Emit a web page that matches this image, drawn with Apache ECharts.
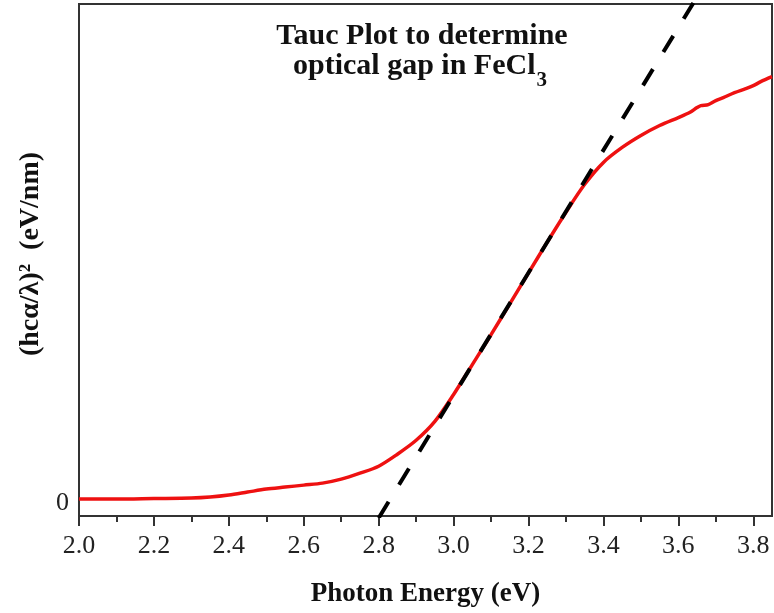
<!DOCTYPE html>
<html>
<head>
<meta charset="utf-8">
<script src="https://cdn.jsdelivr.net/npm/echarts@6/dist/echarts.min.js"></script>
<style>html,body{margin:0;padding:0;background:#fff}#c{width:774px;height:613px}</style>
</head>
<body>
<div id="c"></div>
<script>
// Photon energy (eV)
const energy = [2.00,2.10,2.20,2.30,2.35,2.40,2.45,2.50,2.55,2.60,2.65,2.70,2.75,2.80,2.85,2.90,2.95,3.00,3.05,3.10,3.15,3.20,3.25,3.30,3.35,3.40,3.45,3.50,3.55,3.60,3.63,3.65,3.66,3.68,3.70,3.72,3.75,3.78,3.80,3.82,3.85];
// (hcα/λ)^2 (arb. units)
const tauc = [0.00,0.00,0.005,0.01,0.02,0.04,0.07,0.10,0.12,0.14,0.16,0.20,0.26,0.33,0.45,0.59,0.78,1.05,1.35,1.65,1.96,2.27,2.58,2.88,3.16,3.38,3.53,3.65,3.75,3.83,3.88,3.93,3.95,3.96,4.00,4.03,4.08,4.12,4.15,4.19,4.24];
// Linear fit (tangent) end points
const fitX = [2.80, 3.64];
const fitY = [-0.19, 4.98];
const majorTicks = [2.0,2.2,2.4,2.6,2.8,3.0,3.2,3.4,3.6,3.8];
const minorTicks = [2.1,2.3,2.5,2.7,2.9,3.1,3.3,3.5,3.7];
const yTicks = [0];
const titleLine1 = 'Tauc Plot to determine';
const titleLine2 = 'optical gap in FeCl';
const titleSub = '3';

const curve = energy.map((e,i)=>[e,tauc[i]]);
const fit = fitX.map((e,i)=>[e,fitY[i]]);
const FONT = 'Liberation Serif';

const mctx = document.createElement('canvas').getContext('2d');
function tw(t, f){ mctx.font = f; return mctx.measureText(t).width; }
const tFont = 'bold 30px "Liberation Serif"';
const sFont = 'bold 21px "Liberation Serif"';
const w2 = tw(titleLine2, tFont), ws = tw(titleSub, sFont);
const l2x = 420 - (w2 + ws + 1) / 2;

const chart = echarts.init(document.getElementById('c'));
chart.setOption({
  animation:false,
  graphic:[
    {type:'text',x:422,y:36,style:{text:titleLine1,font:tFont,fill:'#111',align:'center',verticalAlign:'middle'}},
    {type:'text',x:l2x,y:66,style:{text:titleLine2,font:tFont,fill:'#111',align:'left',verticalAlign:'middle'}},
    {type:'text',x:l2x+w2+1,y:81,style:{text:titleSub,font:sFont,fill:'#111',align:'left',verticalAlign:'middle'}}
  ],
  grid:{left:79,right:2,top:4,bottom:95,show:true,borderColor:'#333',borderWidth:2,backgroundColor:'transparent'},
  xAxis:[{
    type:'value',min:2.0,max:3.85,position:'bottom',
    name:'Photon Energy (eV)',nameLocation:'middle',nameGap:65,
    nameTextStyle:{fontFamily:FONT,fontWeight:'bold',fontSize:27,color:'#111'},
    axisLine:{onZero:false,lineStyle:{color:'#333',width:2}},
    axisTick:{show:true,customValues:majorTicks,length:10,lineStyle:{color:'#333',width:2}},
    axisLabel:{customValues:majorTicks,formatter:v=>v.toFixed(1),fontFamily:FONT,fontSize:26,color:'#222',margin:17},
    splitLine:{show:false}
  },{
    type:'value',min:2.0,max:3.85,position:'bottom',
    axisLine:{show:false,onZero:false},
    axisTick:{show:true,customValues:minorTicks,length:6,lineStyle:{color:'#333',width:2}},
    axisLabel:{show:false},
    splitLine:{show:false}
  }],
  yAxis:{
    type:'value',min:-0.17,max:4.97,
    name:'(hcα/λ)²  (eV/nm)',nameLocation:'middle',nameGap:34,nameRotate:90,
    nameTextStyle:{fontFamily:FONT,fontWeight:'bold',fontSize:28,color:'#111',padding:[0,0,0,12]},
    axisLine:{show:true,onZero:false,lineStyle:{color:'#333',width:2}},
    axisTick:{show:false},
    axisLabel:{customValues:yTicks,formatter:v=>'{z|'+v+'}',margin:10,
      rich:{z:{fontFamily:FONT,fontSize:26,color:'#222',padding:[8,0,0,0]}}},
    splitLine:{show:false}
  },
  series:[{
    type:'line',data:curve,smooth:0.3,showSymbol:false,
    lineStyle:{color:'#ee1111',width:3.5},z:2
  },{
    type:'line',data:fit,showSymbol:false,
    lineStyle:{color:'#000',width:4,type:[19,20]},z:3
  }]
});
</script>
</body>
</html>
